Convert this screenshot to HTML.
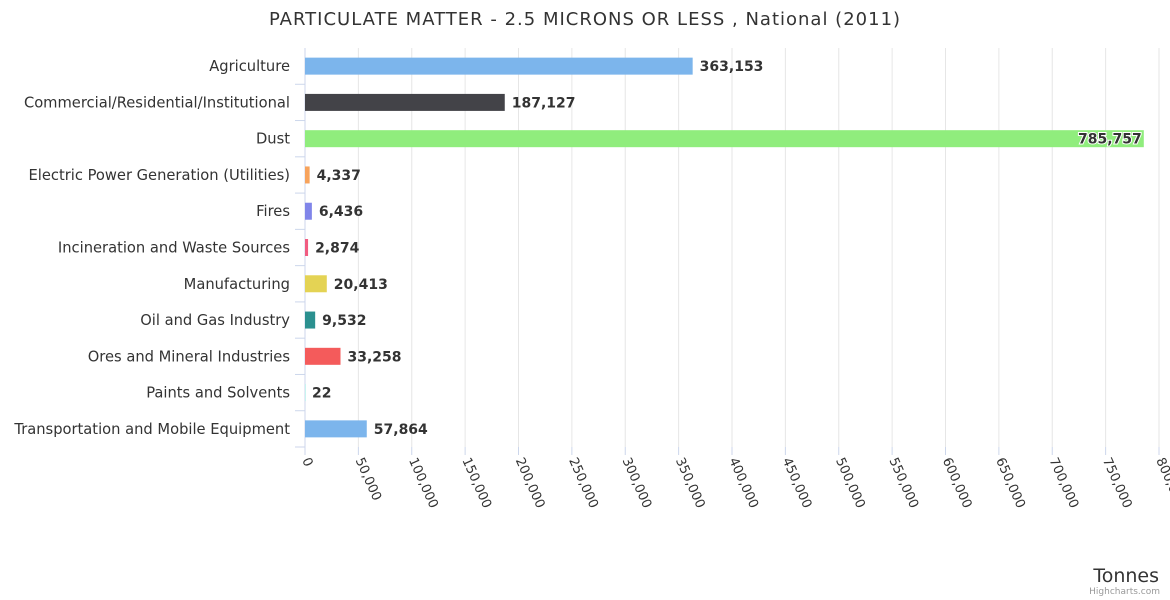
<!DOCTYPE html>
<html><head><meta charset="utf-8">
<style>body{margin:0;background:#fff}svg{display:block;font-family:"DejaVu Sans","Liberation Sans",sans-serif}</style>
</head><body>
<svg id="chart" width="1170" height="600">
<text x="585" y="25" text-anchor="middle" font-size="18" letter-spacing="1" fill="#333">PARTICULATE MATTER - 2.5 MICRONS OR LESS , National (2011)</text>
<g id="grid"></g><g id="bars"></g><g id="labels"></g><g id="xticks"></g>
<text x="1159" y="582" text-anchor="end" font-size="19" fill="#333">Tonnes</text>
<text x="1160" y="594" text-anchor="end" font-size="9" fill="#999">Highcharts.com</text>
</svg>
<script>
const categories=["Agriculture","Commercial/Residential/Institutional","Dust","Electric Power Generation (Utilities)","Fires","Incineration and Waste Sources","Manufacturing","Oil and Gas Industry","Ores and Mineral Industries","Paints and Solvents","Transportation and Mobile Equipment"];
const values=[363153,187127,785757,4337,6436,2874,20413,9532,33258,22,57864];
const colors=["#7cb5ec","#434348","#90ed7d","#f7a35c","#8085e9","#f15c80","#e4d354","#2b908f","#f45b5b","#91e8e1","#7cb5ec"];
const ticks=[0,50000,100000,150000,200000,250000,300000,350000,400000,450000,500000,550000,600000,650000,700000,750000,800000];
const NS="http://www.w3.org/2000/svg";
const x0=305,x1=1159,plotTop=48,plotBot=447,xmax=800000;
const xs=v=>x0+(v/xmax)*(x1-x0);
const band=(plotBot-plotTop)/categories.length;
const yc=i=>plotTop+band*(i+0.5);
function mk(t,a,p){const e=document.createElementNS(NS,t);for(const k in a)e.setAttribute(k,a[k]);p.appendChild(e);return e;}
const g=document.getElementById('grid'),b=document.getElementById('bars'),l=document.getElementById('labels'),xt=document.getElementById('xticks');
ticks.forEach(t=>{
 const ln=mk('line',{x1:xs(t),x2:xs(t),y1:plotTop,y2:plotBot,stroke:t===0?'#ccd6eb':'#e6e6e6','stroke-width':1},g);
 
 
 const tk=mk('line',{x1:xs(t),x2:xs(t),y1:plotBot,y2:plotBot+8,stroke:'#ccd6eb'},g);
 
 
 const tx=mk('text',{x:0,y:0,'font-size':13,fill:'#333',transform:`translate(${xs(t)-3},${plotBot+13}) rotate(66)`},xt);
 tx.textContent=t.toLocaleString('en-US');
 
 
});
categories.forEach((c,i)=>{
 const y=yc(i);
 const tk=mk('line',{x1:x0-10,x2:x0,y1:y+band/2,y2:y+band/2,stroke:'#ccd6eb'},g);
 
 
 const lb=mk('text',{x:290,y:y+5,'text-anchor':'end','font-size':14.7,fill:'#333'},l);
 lb.textContent=c;
 
 
 const w=Math.max(xs(values[i])-x0,0.5);
 const r=mk('rect',{x:x0,y:y-8.5,width:w,height:17,fill:colors[i]},b);
 
 
 const inside=xs(values[i])+80>1165;
 const vt=mk('text',{x:inside?xs(values[i])-2:xs(values[i])+7,y:y+5,'text-anchor':inside?'end':'start','font-size':14,'font-weight':'bold',fill:'#333',stroke:'#fff','stroke-width':inside?2:0,'paint-order':'stroke'},l);
 vt.textContent=values[i].toLocaleString('en-US');
 
 
});
</script>
</body></html>
